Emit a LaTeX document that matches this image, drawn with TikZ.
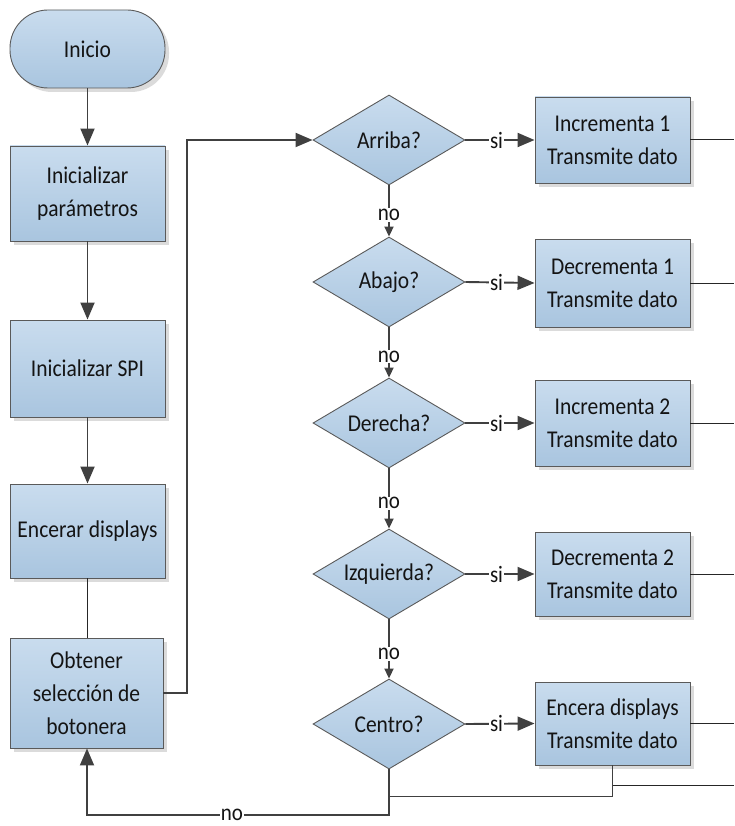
\documentclass[tikz,border=0pt]{standalone}
\usepackage{fontspec}
\usepackage{graphicx}
\setmainfont{Carlito}
\usetikzlibrary{shapes.geometric,arrows.meta,shadows}
\newcommand{\vs}[1]{\scalebox{1}[1.12]{#1}}
\definecolor{boxtop}{HTML}{C9DCEE}
\definecolor{boxbot}{HTML}{A9C5DF}
\definecolor{bord}{HTML}{5A5A5A}
\definecolor{conn}{HTML}{404040}
\tikzset{
  base/.style={draw=bord, line width=0.9pt, top color=boxtop, bottom color=boxbot,
    font=\fontsize{21.5}{33}\selectfont, align=center, inner sep=0pt, text=black!92},
  shad/.style={drop shadow={shadow xshift=4pt, shadow yshift=-4pt, fill=black!14, opacity=1}},
  term/.style={base, shad, rectangle, rounded corners=38pt, minimum width=155pt, minimum height=78pt},
  procbox/.style={base, shad, rectangle, minimum width=155pt},
  decis/.style={base, diamond, aspect=1.65, minimum width=152pt, minimum height=90pt},
  flow/.style={draw=conn, line width=1.9pt},
  thin/.style={draw=black!85, line width=1pt},
  bigtip/.style={-{Triangle[length=17pt,width=14pt]}},
  smalltip/.style={-{Triangle[length=10pt,width=9pt]}},
  lbl/.style={fill=white, inner sep=1pt, font=\fontsize{21}{24}\selectfont, text=black!92}
}
\begin{document}
\begin{tikzpicture}[x=1pt,y=-1pt]
\useasboundingbox (0,0) rectangle (734,826);
% left column
\node[term] (ini) at (87.5,49) {\vs{Inicio}};
\node[procbox, minimum height=95pt] (par) at (87.5,193.5) {\vs{Inicializar}\\\vs{parámetros}};
\node[procbox, minimum height=97pt] (spi) at (87.5,368.5) {\vs{Inicializar SPI}};
\node[procbox, minimum height=94pt] (enc) at (87.5,531) {\vs{Encerar displays}};
\node[procbox, minimum height=110pt, minimum width=153pt] (obt) at (86.5,693) {\vs{Obtener}\\\vs{selección de}\\\vs{botonera}};
% decisions
\node[decis] (d1) at (389,140) {\vs{Arriba?}};
\node[decis] (d2) at (389,282) {\vs{Abajo?}};
\node[decis] (d3) at (389,423) {\vs{Derecha?}};
\node[decis] (d4) at (389,574) {\vs{Izquierda?}};
\node[decis] (d5) at (389,724) {\vs{Centro?}};
% action boxes
\node[procbox, minimum height=86pt] (b1) at (612.5,140) {\vs{Incrementa 1}\\\vs{Transmite dato}};
\node[procbox, minimum height=88pt] (b2) at (612.5,283) {\vs{Decrementa 1}\\\vs{Transmite dato}};
\node[procbox, minimum height=86pt] (b3) at (612.5,423) {\vs{Incrementa 2}\\\vs{Transmite dato}};
\node[procbox, minimum height=84pt] (b4) at (612.5,574) {\vs{Decrementa 2}\\\vs{Transmite dato}};
\node[procbox, minimum height=83pt] (b5) at (612.5,723.5) {\vs{Encera displays}\\\vs{Transmite dato}};
% coordinates
\coordinate (e1) at (734,140);
\coordinate (e2) at (734,283);
\coordinate (e3) at (734,423);
\coordinate (e4) at (734,574);
\coordinate (e5) at (734,723.5);
\coordinate (er) at (734,785);
\coordinate (jr) at (612,785);
\coordinate (jb) at (612,796);
\coordinate (jc) at (389,796);
\coordinate (lb) at (389,815);
\coordinate (lc) at (87,815);
\coordinate (lx) at (187,693);
\coordinate (ly) at (187,140);
% left column connectors
\draw[flow, bigtip] (ini) -- (par);
\draw[flow, bigtip] (par) -- (spi);
\draw[flow, bigtip] (spi) -- (enc);
\draw[thin] (enc) -- (obt.north -| enc.south);
\draw[flow, bigtip] (obt.east) -- (lx) -- (ly) -- (d1.west);
% decisions chain
\draw[flow, smalltip] (d1.south) -- node[lbl, pos=0.58] {\vs{no}} (d2.north);
\draw[flow, smalltip] (d2.south) -- node[lbl, pos=0.58] {\vs{no}} (d3.north);
\draw[flow, smalltip] (d3.south) -- node[lbl, pos=0.58] {\vs{no}} (d4.north);
\draw[flow, smalltip] (d4.south) -- node[lbl, pos=0.58] {\vs{no}} (d5.north);
% si arrows
\draw[flow, bigtip] (d1.east) -- node[lbl, pos=0.45] {\vs{si}} (b1.west);
\draw[flow, bigtip] (d2.east) -- node[lbl, pos=0.45] {\vs{si}} (b2.west);
\draw[flow, bigtip] (d3.east) -- node[lbl, pos=0.45] {\vs{si}} (b3.west);
\draw[flow, bigtip] (d4.east) -- node[lbl, pos=0.45] {\vs{si}} (b4.west);
\draw[flow, bigtip] (d5.east) -- node[lbl, pos=0.45] {\vs{si}} (b5.west);
% outputs to the right
\draw[thin] (b1.east) -- (e1);
\draw[thin] (b2.east) -- (e2);
\draw[thin] (b3.east) -- (e3);
\draw[thin] (b4.east) -- (e4);
\draw[thin] (b5.east) -- (e5);
% return paths
\draw[thin] (er) -- (jr);
\draw[thin, draw=conn] (b5.south -| jb) -- (jb) -- (jc);
\draw[flow, bigtip] (d5.south) -- (lb) -- node[lbl, pos=0.52] {\vs{no}} (lc) -- (obt.south -| lc);
\end{tikzpicture}
\end{document}
